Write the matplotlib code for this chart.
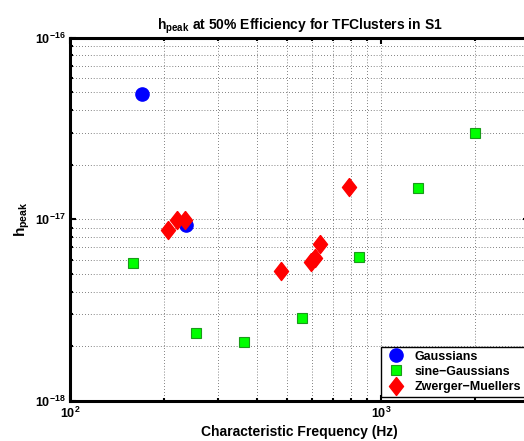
import math
import matplotlib.pyplot as plt
from matplotlib.ticker import LogLocator, FixedLocator, FuncFormatter, NullFormatter

plt.rcParams['font.family'] = ['Liberation Sans', 'DejaVu Sans']
plt.rcParams['font.weight'] = 'bold'
plt.rcParams['mathtext.fontset'] = 'custom'
plt.rcParams['mathtext.rm'] = 'Liberation Sans:bold'
plt.rcParams['mathtext.it'] = 'Liberation Sans:bold'
plt.rcParams['mathtext.bf'] = 'Liberation Sans:bold'

# Gaussians
gauss_f = [171, 236]
gauss_h = [4.88e-17, 9.3e-18]

# sine-Gaussians
sg_f = [2000, 1315, 160, 851, 556, 254, 362]
sg_h = [3.0e-17, 1.48e-17, 5.78e-18, 6.2e-18, 2.88e-18, 2.36e-18, 2.1e-18]

# Zwerger-Muellers
zm_f = [207, 221, 234, 789, 477, 596, 615, 636]
zm_h = [8.7e-18, 9.9e-18, 9.9e-18, 1.5e-17, 5.18e-18, 5.8e-18, 6.1e-18, 7.3e-18]

x_major = [100, 1000]
y_major = [1e-18, 1e-17, 1e-16]

# matlab-style diamond (wider than matplotlib's thin one)
diamond = [(0, 1), (0.78, 0), (0, -1), (-0.78, 0), (0, 1)]

fig = plt.figure(figsize=(5.24, 4.41), dpi=100)
ax = fig.add_axes([0.1336, 0.0907, 0.8768, 0.8238])

ax.plot(gauss_f, gauss_h, 'o', color='#0000ff', markersize=9.5, markeredgecolor='#0000ff', label='Gaussians', zorder=3)
ax.plot(sg_f, sg_h, 's', color='#00ff00', markersize=7.5, markeredgecolor='#1a9a1a', markeredgewidth=0.8, label='sine\u2212Gaussians', zorder=3)
ax.plot(zm_f, zm_h, marker=diamond, linestyle='none', color='#ff0000', markersize=13, markeredgecolor='#ff0000', label='Zwerger\u2212Muellers', zorder=4)

ax.set_xscale('log')
ax.set_yscale('log')
ax.set_xlim(100, 3000)
ax.set_ylim(1e-18, 1e-16)

fmt = FuncFormatter(lambda v, p: r'$\mathbf{10^{%d}}$' % round(math.log10(v)))
ax.xaxis.set_major_locator(FixedLocator(x_major))
ax.yaxis.set_major_locator(FixedLocator(y_major))
ax.xaxis.set_major_formatter(fmt)
ax.yaxis.set_major_formatter(fmt)
ax.xaxis.set_minor_locator(LogLocator(base=10, subs=range(2, 10)))
ax.yaxis.set_minor_locator(LogLocator(base=10, subs=range(2, 10)))
ax.xaxis.set_minor_formatter(NullFormatter())
ax.yaxis.set_minor_formatter(NullFormatter())

ax.grid(True, which='both', linestyle=(0, (0.6, 2.4)), color='#333333', linewidth=0.7)
ax.set_axisbelow(True)
ax.tick_params(which='both', direction='in', top=True, right=True, labelsize=9, width=1.5)
ax.tick_params(which='major', length=4)
ax.tick_params(which='minor', length=2.5)
for s in ax.spines.values():
    s.set_linewidth(2.2)

ax.set_title(r'h$_{\mathbf{peak}}$ at 50% Efficiency for TFClusters in S1', fontsize=10, fontweight='bold', pad=6)
ax.set_xlabel('Characteristic Frequency (Hz)', fontsize=10, fontweight='bold', labelpad=3)
ax.set_ylabel(r'h$_{\mathbf{peak}}$', fontsize=11, fontweight='bold', labelpad=2)

leg = ax.legend(loc='lower right', fontsize=9, frameon=True, fancybox=False, borderaxespad=0.35,
                handletextpad=0.6, borderpad=0.3, labelspacing=0.25, handlelength=1.8)
leg.get_frame().set_edgecolor('black')
leg.get_frame().set_linewidth(1.0)
leg.get_frame().set_alpha(1)

fig.savefig('out.png', dpi=100)
